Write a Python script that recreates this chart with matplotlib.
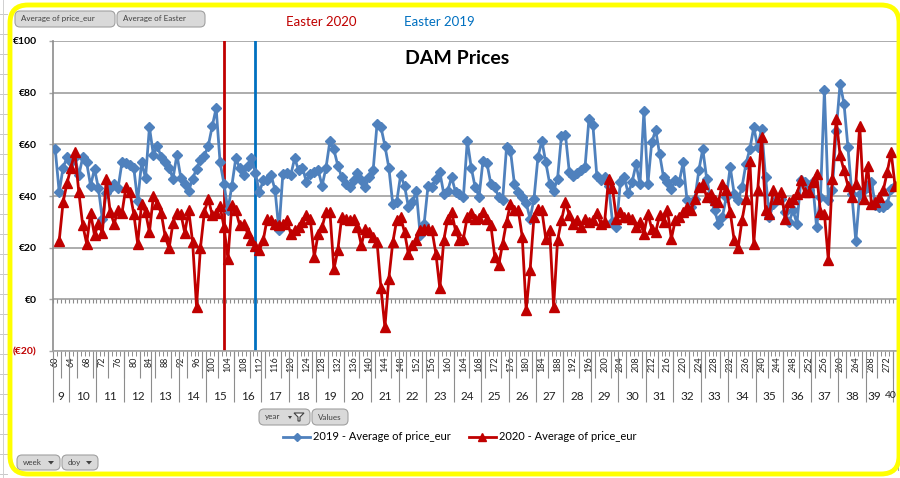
import numpy as np
import matplotlib
matplotlib.use("Agg")
import matplotlib.pyplot as plt
from matplotlib.patches import FancyBboxPatch, Polygon
from matplotlib.lines import Line2D

plt.rcParams['font.family'] = ['Lato', 'DejaVu Sans']

# ---------------- data ----------------
doy = list(range(60, 275))  # day of year categories
week_numbers = list(range(9, 41))
week_first_doy = [60] + [64 + 7 * k for k in range(31)]

price_2019 = [
    58, 41.5, 51, 55, 53, 55, 48, 55, 53, 44,
    50.5, 43, 31, 41, 43, 44.5, 43, 53, 52.7, 52,
    51, 38, 53, 47, 66.6, 56, 59.5, 55, 53, 51,
    46.7, 56, 47, 44.7, 42, 46.7, 50.5, 54, 55.6, 59.5,
    67, 74, 53, 44.7, 34.4, 44, 54.6, 50.8, 48, 51.8,
    54.7, 49, 41.5, 46, 46, 48, 42.4, 26.7, 48.6, 48.8,
    48, 54.6, 50,
    51, 45.4, 48.6, 49.2, 50, 44, 51, 61.4,
    58, 51.8, 47.3, 44.7, 43.4, 46, 49, 46, 43.4, 47.3,
    49.9, 67.9, 66.6, 59.5, 51, 37, 37.7, 48, 44, 35.7,
    37.7, 42, 24.8, 29.3, 44, 43.4, 46.7, 49.2, 40.9, 42,
    47.3, 41.5, 40.9, 39.6, 61.4, 51,
    43.4, 39.8, 53.7, 52.7, 44.7, 43.4, 39.6, 38.3, 58.9, 57.6,
    44.7, 41.5, 39.6, 37.3, 31.2, 39, 55, 61.4, 53, 44.7,
    42, 46.7, 63.4, 63.8, 49.2, 47.9, 48.8, 49.9, 51.2, 69.8,
    67.6, 47.9, 46, 47.3, 44, 30,
    27.9, 45.4, 47.3, 41, 45.4, 52.4, 44.5, 72.8, 44.5, 60.8,
    65.6, 56.3, 47.3, 45.4, 42.8, 46, 45.4, 53, 38.3, 35.7,
    39, 49.9, 58.2, 46.7, 39, 34.4, 29.3, 31.9, 39.6, 51.2,
    40.9, 38.3, 43.4, 52.4, 58.2, 66.6,
    59, 66, 47.3, 31.9, 37, 39, 39, 33.8, 30, 34.4,
    29.3, 46, 45.4, 42.2, 45.4, 28, 39.6, 81, 38.3, 42.2,
    65.3, 83.5, 75.6, 58.9, 40.9, 22.6, 40.9, 42.2, 43.4, 45.4,
    36.4, 35.7, 35.7, 37, 42.8, 44,
]

price_2020 = [
    np.nan, 22.6, 37.7, 45, 51, 57, 41.5, 28.7, 21.6, 33.4,
    24.8, 29.3, 25.7, 46.7, 33.8, 29.3, 34.4, 33.4, 43.4, 41.5,
    33.2, 21.6, 37, 33.8, 26, 40, 37, 33.4, 24.4, 19.7,
    29.6, 33.4, 33.2, 25.7, 34.4, 22.2, -2.8, 20, 33.8, 39,
    32.5, 33.4, 36, 28, 15.8, 36.4, 34.4, 28.7, 29.3, 25.7,
    23, 20.5, 19, 22.9, 31.2, 30.6, 29.3, 28.7, 29.3, 30.8,
    25.4, 26.7, 28,
    30, 32.5, 31, 16.5, 25.4, 28, 33.8, 33.8,
    11.6, 19, 32, 31.2, 30.6, 31.2, 28, 21, 27.4, 26,
    24, 22.2, 4.2, -10.8, 8, 22, 30.6, 32, 26, 17.5,
    21, 22.9, 26.7, 27.4, 27.4, 26.7, 17.7, 4.2, 22.9, 31.2,
    33.8, 26.7, 22.9, 23.5, 32, 33.4,
    31.2, 31.5, 33.8, 31.2, 28.7, 16.5, 13.2, 21.6, 30, 37,
    34.4, 34.4, 24.2, -4, 11.3, 32, 35, 34.4, 23.5, 26.7,
    -2.8, 22.9, 30.6, 37.7, 32.5, 29.3, 30.6, 28, 31.2, 30,
    30.6, 33.4, 29.3, 30, 46.7, 43,
    31.2, 33.8, 31.9, 31.9, 31.2, 28, 30, 25.4, 33.2, 27.4,
    26, 32.5, 30, 34.4, 23.5, 30.6, 31.9, 33.8, 35.7, 34.4,
    39, 43.4, 44.7, 39.6, 40.9, 38.3, 37.7, 44.7, 42.2, 33.8,
    22.9, 19.7, 30.6, 39, 53.7, 21.6,
    42.2, 62.7, 34.4, 33.2, 42.2, 39, 41.5, 31.2, 37.7, 39,
    40.9, 46, 41.5, 41.5, 45.4, 48.6, 33.8, 33.2, 15.2, 46.7,
    69.8, 55.7, 49.9, 44, 39.6, 44.7, 67.2, 39, 51.8, 37,
    37.7, 39.6, 42.2, 49.2, 57, 44,
]

easter_2020_doy = 103
easter_2019_doy = 111

y_ticks = [-20, 0, 20, 40, 60, 80, 100]
y_labels = ['(€20)', '€0', '€20', '€40', '€60', '€80', '€100']

# ---------------- figure ----------------
W, H = 900, 478
fig = plt.figure(figsize=(W / 100, H / 100), dpi=100)
fig.patch.set_facecolor('white')

def fx(x):
    return x / W

def fy(y):
    return 1 - y / H

ax = fig.add_axes([fx(53.3), fy(351), (897 - 53.3) / W, (351 - 41) / H])
idx = np.arange(len(doy))

BLUE = '#4F81BD'
RED = '#C00000'
GRID = '#A6A6A6'

ax.set_xlim(-0.5, len(doy) - 0.5)
ax.set_ylim(-20, 100)

ax.set_yticks(y_ticks)
ax.set_yticklabels(y_labels, fontsize=7.5, fontweight='bold')
for lab, v in zip(ax.get_yticklabels(), y_ticks):
    lab.set_color(RED if v < 0 else 'black')
ax.tick_params(axis='y', length=3, width=1, color=GRID, pad=9)
ax.yaxis.grid(True, color=GRID, lw=1.3, zorder=0)
ax.set_axisbelow(True)

ax.set_xticks(idx[::4])
ax.set_xticklabels([str(d) for d in doy[::4]], rotation=90, fontsize=6.5, color='#222222')
ax.tick_params(axis='x', length=0, pad=4)

ax.spines['top'].set_visible(False)
ax.spines['left'].set_color('#8C8C8C')
ax.spines['right'].set_color(GRID)
ax.spines['bottom'].set_color(GRID)
ax.spines['left'].set_linewidth(1.2)
ax.spines['bottom'].set_linewidth(1.2)

# easter lines
ax.axvline(doy.index(easter_2020_doy), color=RED, lw=2, zorder=1)
ax.axvline(doy.index(easter_2019_doy), color='#0070C0', lw=2, zorder=1)

# ticks at each category along the zero axis
ax.vlines(idx - 0.5, -1.5, 0, color='#8C8C8C', lw=0.8, zorder=1)

# series
l19, = ax.plot(idx, price_2019, color=BLUE, lw=2, marker='D', markersize=5,
               markerfacecolor=BLUE, markeredgecolor=BLUE, zorder=3,
               label='2019 - Average of price_eur')
l20, = ax.plot(idx, price_2020, color=RED, lw=2, marker='^', markersize=6.5,
               markerfacecolor=RED, markeredgecolor=RED, zorder=4,
               label='2020 - Average of price_eur')

# category axis decorations
tr = ax.get_xaxis_transform()
axh = 351 - 41
ax.vlines(idx - 0.5, -5 / axh, 0, transform=tr, color='#8C8C8C', lw=0.7, clip_on=False)
grp = np.arange(1.5, len(doy), 4)
ax.vlines(grp, -27 / axh, 0, transform=tr, color='#8C8C8C', lw=0.8, clip_on=False)
wk_start = [doy.index(d) - 0.5 for d in week_first_doy]
ax.vlines(wk_start, -51 / axh, 0, transform=tr, color='#8C8C8C', lw=0.8, clip_on=False)
for k, wn in enumerate(week_numbers):
    s = wk_start[k]
    e = wk_start[k + 1] if k + 1 < len(wk_start) else len(doy) - 0.5
    c = (s + e) / 2
    if wn == 40:
        ax.text(len(doy) - 0.5, -45 / axh, str(wn), transform=tr, ha='right', va='center',
                fontsize=7.5, color='#222222', clip_on=False)
        continue
    if wn == 39:
        c -= 1.2
    ax.text(c, -45 / axh, str(wn), transform=tr, ha='center', va='center',
            fontsize=8.5, color='#222222', clip_on=False)

# title and labels
fig.text(fx(457), fy(58), 'DAM Prices', ha='center', va='center', fontsize=14,
         fontweight='bold', color='black')
fig.text(fx(321), fy(22), 'Easter 2020', ha='center', va='center', fontsize=9.5, color=RED)
fig.text(fx(439), fy(22), 'Easter 2019', ha='center', va='center', fontsize=9.5, color='#0070C0')

# legend
ax.legend(handles=[l19, l20], loc='center', bbox_to_anchor=(fx(460), fy(437)),
          bbox_transform=fig.transFigure, ncol=2, frameon=False, fontsize=8,
          handlelength=2.4, columnspacing=1.6, handletextpad=0.3, markerscale=0.9)

# ---------------- chrome (buttons, border) ----------------
inch = fig.dpi_scale_trans

def button(x0, y0, x1, y1, text, arrow=False, funnel=False):
    p = FancyBboxPatch((x0 / 100, (H - y1) / 100), (x1 - x0) / 100, (y1 - y0) / 100,
                       boxstyle='round,pad=0,rounding_size=0.05', transform=inch,
                       facecolor='#D9D9D9', edgecolor='#A0A0A0', lw=0.8, zorder=5)
    fig.add_artist(p)
    fig.text(fx(x0 + 6), fy((y0 + y1) / 2), text, ha='left', va='center',
             fontsize=5.8, color='#404040', zorder=6)
    if arrow:
        xa = x1 - 9
        ya = (y0 + y1) / 2
        tri = Polygon([(fx(xa - 3), fy(ya - 1.5)), (fx(xa + 3), fy(ya - 1.5)), (fx(xa), fy(ya + 2))],
                      closed=True, transform=fig.transFigure, facecolor='#404040',
                      edgecolor='none', zorder=6)
        fig.add_artist(tri)
    if funnel:
        xf = x1 - 11
        ya = (y0 + y1) / 2
        fun = Polygon([(fx(xf - 5), fy(ya - 4)), (fx(xf + 5), fy(ya - 4)), (fx(xf + 1), fy(ya)),
                       (fx(xf + 1), fy(ya + 4)), (fx(xf - 1), fy(ya + 4)), (fx(xf - 1), fy(ya))],
                      closed=True, transform=fig.transFigure, facecolor='#F2F2F2',
                      edgecolor='#404040', lw=0.8, zorder=6)
        fig.add_artist(fun)
        tri = Polygon([(fx(xf - 11), fy(ya - 1)), (fx(xf - 7), fy(ya - 1)), (fx(xf - 9), fy(ya + 2))],
                      closed=True, transform=fig.transFigure, facecolor='#404040',
                      edgecolor='none', zorder=6)
        fig.add_artist(tri)

button(15, 11, 115, 27, 'Average of price_eur')
button(117, 11, 205, 27, 'Average of Easter')
button(259, 409, 310, 425, 'year', funnel=True)
button(312, 409, 348, 425, 'Values')
button(17, 455, 60, 470, 'week', arrow=True)
button(62, 455, 98, 470, 'doy', arrow=True)

# spreadsheet row lines left of the border
for yy in range(14, 478, 20):
    fig.add_artist(Line2D([fx(0), fx(7)], [fy(yy), fy(yy)], transform=fig.transFigure,
                          color='#C8C8C8', lw=0.7))
fig.add_artist(Line2D([fx(3), fx(3)], [fy(0), fy(478)], transform=fig.transFigure,
                      color='#D0D0D0', lw=0.7))

# right edge line
fig.add_artist(Line2D([fx(897.5), fx(897.5)], [fy(351), fy(470)], transform=fig.transFigure,
                      color='#A6A6A6', lw=0.8))

# yellow rounded border
border = FancyBboxPatch((10 / 100, (H - 474) / 100), (899 - 10) / 100, (474 - 5) / 100,
                        boxstyle='round,pad=0,rounding_size=0.18', transform=inch,
                        facecolor='none', edgecolor='#FFFF00', lw=3.5, zorder=10)
fig.add_artist(border)

fig.savefig('out.png', dpi=100, facecolor='white')
